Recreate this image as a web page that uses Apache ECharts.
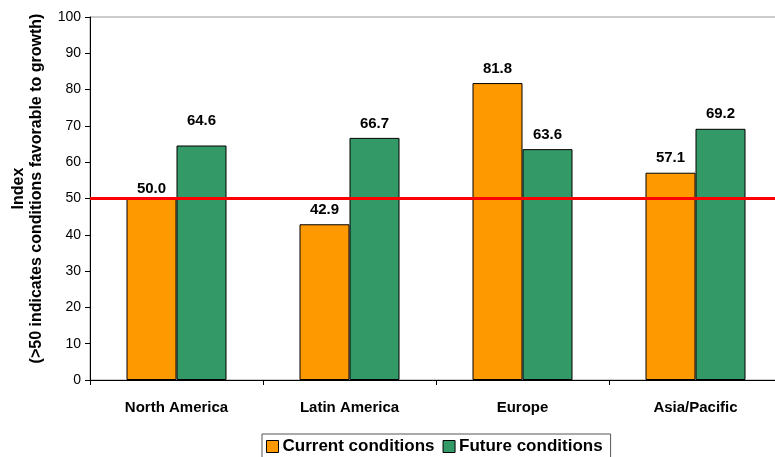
<!DOCTYPE html>
<html>
<head>
<meta charset="utf-8">
<script src="https://cdn.jsdelivr.net/npm/echarts@6/dist/echarts.min.js"></script>
<style>
  html, body { margin: 0; padding: 0; background: #fff; }
  #main { width: 775px; height: 457px; }
</style>
</head>
<body>
<div id="main"></div>
<script>
var regions = ['North America', 'Latin America', 'Europe', 'Asia/Pacific'];
var currentValues = [50.0, 42.9, 81.8, 57.1];
var futureValues = [64.6, 66.7, 63.6, 69.2];
var threshold = 50;

// extra lift (px) of a few value labels, as placed in the original
var currentLift = [-5, 0, 0, 0];
var futureLift = [10, 0, 0, 0];

var chart = echarts.init(document.getElementById('main'), null, { renderer: 'canvas' });

function labelStyle() {
	return {
		show: true,
		position: 'top',
		distance: 7,
		fontFamily: 'Liberation Sans, Arial',
		fontWeight: 'bold',
		fontSize: 15,
		color: '#000',
		formatter: function (p) { return p.value.toFixed(1); }
	};
}

var option = {
	backgroundColor: '#ffffff',
	animation: false,
	grid: {
		left: 90,
		top: 17,
		bottom: 77,
		right: -7,
		outerBoundsMode: 'none',
		containLabel: false,
		show: true,
		borderColor: '#999',
		borderWidth: 1
	},
	legend: {
		bottom: -4,
		left: 262,
		icon: 'rect',
		itemWidth: 12,
		itemHeight: 12,
		itemGap: 8,
		padding: [4, 8, 6, 4],
		borderColor: '#555',
		borderWidth: 1,
		itemStyle: { borderColor: '#000', borderWidth: 1 },
		textStyle: {
			fontFamily: 'Liberation Sans, Arial',
			fontWeight: 'bold',
			fontSize: 17,
			color: '#000',
			padding: [0, 0, 0, -1]
		},
		data: ['Current conditions', 'Future conditions']
	},
	xAxis: {
		type: 'category',
		data: regions,
		axisLine: { lineStyle: { color: '#000', width: 1 } },
		axisTick: { show: true, length: 5, lineStyle: { color: '#000' } },
		axisLabel: {
			margin: 20,
			fontFamily: 'Liberation Sans, Arial',
			fontWeight: 'bold',
			fontSize: 15,
			color: '#000'
		}
	},
	yAxis: {
		type: 'value',
		min: 0,
		max: 100,
		interval: 10,
		name: 'Index\n(>50 indicates conditions favorable to growth)',
		nameLocation: 'middle',
		nameGap: 44,
		nameTextStyle: {
			fontFamily: 'Liberation Sans, Arial',
			fontWeight: 'bold',
			fontSize: 16,
			color: '#000',
			lineHeight: 18,
			padding: [0, 0, 0, 20]
		},
		axisLine: { show: true, lineStyle: { color: '#000', width: 1 } },
		axisTick: { show: true, length: 5, lineStyle: { color: '#000' } },
		splitLine: { show: false },
		axisLabel: {
			margin: 9,
			fontFamily: 'Liberation Sans, Arial',
			fontSize: 14,
			color: '#000'
		}
	},
	series: [
		{
			name: 'Current conditions',
			type: 'bar',
			data: currentValues,
			barWidth: 50,
			barGap: '0%',
			itemStyle: { color: '#FF9900', borderColor: '#000', borderWidth: 1 },
			label: labelStyle(),
			labelLayout: function (p) {
				return { dy: -currentLift[p.dataIndex] };
			}
		},
		{
			name: 'Future conditions',
			type: 'bar',
			data: futureValues,
			barWidth: 50,
			itemStyle: { color: '#339966', borderColor: '#000', borderWidth: 1 },
			label: labelStyle(),
			labelLayout: function (p) {
				return { dy: -futureLift[p.dataIndex] };
			},
			markLine: {
				silent: true,
				symbol: ['none', 'none'],
				label: { show: false },
				lineStyle: { color: '#FF0000', width: 3, type: 'solid' },
				data: [{ yAxis: threshold }]
			}
		}
	]
};

chart.setOption(option);
</script>
</body>
</html>
